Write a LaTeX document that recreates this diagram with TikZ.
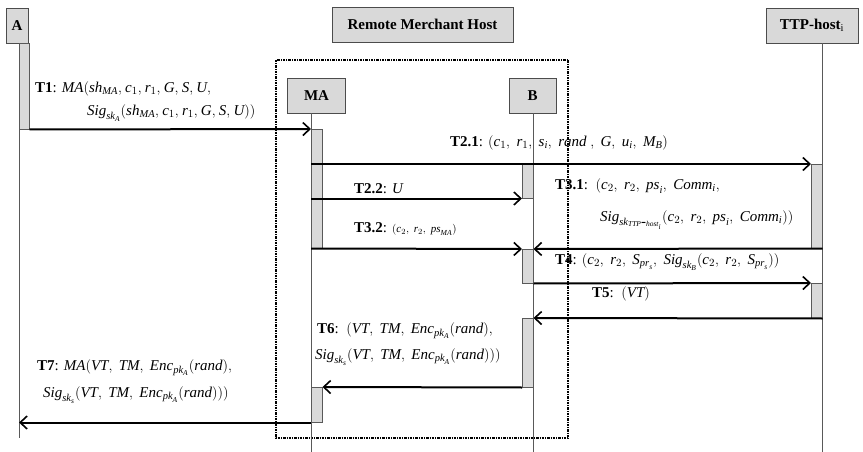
\documentclass[tikz,border=0pt]{standalone}
\usepackage{fontspec}
\setmainfont{Liberation Serif}
\usetikzlibrary{arrows.meta}
\newcommand\mv[1]{\mathit{#1}}
\begin{document}
\thinmuskip=8mu
\begin{tikzpicture}[x=1pt,y=-1pt,
  hdr/.style={draw=black!70, fill=black!15, line width=0.8pt, inner sep=0pt,
              font=\fontsize{15}{17}\selectfont\bfseries},
  actbar/.style={draw=black!65, fill=black!15, line width=0.5pt, inner sep=0pt,
                 anchor=north west, minimum width=11pt},
  life/.style={draw=black!65, line width=0.6pt},
  msg/.style={line width=2pt, -{Straight Barb[length=7pt,width=13pt,line width=1.6pt]}},
  lbl/.style={font=\fontsize{15}{17}\selectfont, inner sep=0pt, anchor=west},
  frame/.style={line width=1.3pt, dash pattern=on 2.5pt off 1pt on 1pt off 1pt}
]
\useasboundingbox (0,0) rectangle (863,452);
\fill[white] (0,0) rectangle (863,452);

% headers
\node[hdr, minimum width=22pt, minimum height=35pt] (A) at (17,25.5) {A};
\node[hdr, minimum width=181pt, minimum height=35pt] (RMH) at (422.5,24.5) {Remote Merchant Host};
\node[hdr, minimum width=92pt, minimum height=35pt] (TTP) at (812,25.5) {TTP-host$_{\mathrm{i}}$};
\node[hdr, minimum width=58pt, minimum height=35pt] (MA) at (316.5,95.5) {MA};
\node[hdr, minimum width=47pt, minimum height=35pt] (B) at (532.5,95.5) {B};

% frame
\draw[frame] (276,60) rectangle (568,438);

% lifelines
\coordinate (Aend) at (19,438);
\coordinate (MAend) at (311,452);
\coordinate (Bend) at (533,452);
\coordinate (TTPend) at (822,452);
\draw[life] (A.south -| Aend) -- (Aend);
\draw[life] (MA.south -| MAend) -- (MAend);
\draw[life] (B.south -| Bend) -- (Bend);
\draw[life] (TTP.south -| TTPend) -- (TTPend);

% activation bars
\node[actbar, minimum width=10pt, minimum height=86pt] (Abar) at (19,43) {};
\node[actbar, minimum height=119pt] (MA1) at (311,129) {};
\node[actbar, minimum height=34pt] (B1) at (522,164) {};
\node[actbar, minimum height=84pt] (TTP1) at (811,164) {};
\node[actbar, minimum height=34pt] (B2) at (522,249) {};
\node[actbar, minimum height=35pt] (TTP2) at (811,283) {};
\node[actbar, minimum height=69pt] (B3) at (522,318) {};
\node[actbar, minimum height=35pt] (MA2) at (311,387) {};

% messages
\draw[msg] (Abar.south east) -- (MA1.north west);
\draw[msg] (MA1.west |- TTP1.north west) -- (TTP1.north west);
\draw[msg] (MA1.west |- B1.south west) -- (B1.south west);
\draw[msg] (TTP1.south east) -- (B2.north east);
\draw[msg] (MA1.south west) -- (B2.north west);
\draw[msg] (B2.south east) -- (TTP2.north west);
\draw[msg] (TTP2.south east) -- (B3.north east);
\draw[msg] (B3.south west) -- (MA2.north east);
\draw[msg] (MA2.south west) -- (Aend |- MA2.south west);

% labels
\node[lbl] (L1a) at (35,89) {\thinmuskip=4mu\textbf{T1}: $\mv{MA}(\mv{sh}_{\mv{MA}}, \mv{c}_1, \mv{r}_1, \mv{G}, \mv{S}, \mv{U},$};
\node[lbl] (L1b) at (87,113) {\thinmuskip=4mu$\mv{Sig}_{\mv{sk}_{\mv{A}}}(\mv{sh}_{\mv{MA}}, \mv{c}_1, \mv{r}_1, \mv{G}, \mv{S}, \mv{U}))$};
\node[lbl] (L21) at (450,143) {\textbf{T2.1}: $(\mv{c}_1, \mv{r}_1, \mv{s}_{\mv{i}}, \mv{rand}\ , \mv{G}, \mv{u}_{\mv{i}}, \mv{M}_{\mv{B}})$};
\node[lbl] (L22) at (354,189) {\textbf{T2.2}: $\mv{U}$};
\node[lbl] (L32) at (354,229) {\textbf{T3.2}: {\fontsize{11}{13}\selectfont$(\mv{c}_2, \mv{r}_2, \mv{ps}_{\mv{MA}})$}};
\node[lbl] (L31a) at (555,186) {\textbf{T3.1}:\ \ $(\mv{c}_2, \mv{r}_2, \mv{ps}_{\mv{i}}, \mv{Comm}_{\mv{i}},$};
\node[lbl] (L31b) at (600,220) {$\mv{Sig}_{\mv{sk}_{\mv{TTP\mbox{-}host}_{\mv{i}}}}(\mv{c}_2, \mv{r}_2, \mv{ps}_{\mv{i}}, \mv{Comm}_{\mv{i}}))$};
\node[lbl] (L4) at (555,262) {\textbf{T4}: $(\mv{c}_2, \mv{r}_2, \mv{S}_{\mv{pr}_{\mv{s}}}, \mv{Sig}_{\mv{sk}_{\mv{B}}}(\mv{c}_2, \mv{r}_2, \mv{S}_{\mv{pr}_{\mv{s}}}))$};
\node[lbl] (L5) at (592,294) {\textbf{T5}:\ \ $(\mv{VT})$};
\node[lbl] (L6a) at (317,331) {\textbf{T6}:\ \ $(\mv{VT}, \mv{TM}, \mv{Enc}_{\mv{pk}_{\mv{A}}}(\mv{rand}),$};
\node[lbl] (L6b) at (315,357) {$\mv{Sig}_{\mv{sk}_{\mv{s}}}(\mv{VT}, \mv{TM}, \mv{Enc}_{\mv{pk}_{\mv{A}}}(\mv{rand})))$};
\node[lbl] (L7a) at (37,368) {\textbf{T7}: $\mv{MA}(\mv{VT}, \mv{TM}, \mv{Enc}_{\mv{pk}_{\mv{A}}}(\mv{rand}),$};
\node[lbl] (L7b) at (43,395) {$\mv{Sig}_{\mv{sk}_{\mv{s}}}(\mv{VT}, \mv{TM}, \mv{Enc}_{\mv{pk}_{\mv{A}}}(\mv{rand})))$};
\end{tikzpicture}
\end{document}
